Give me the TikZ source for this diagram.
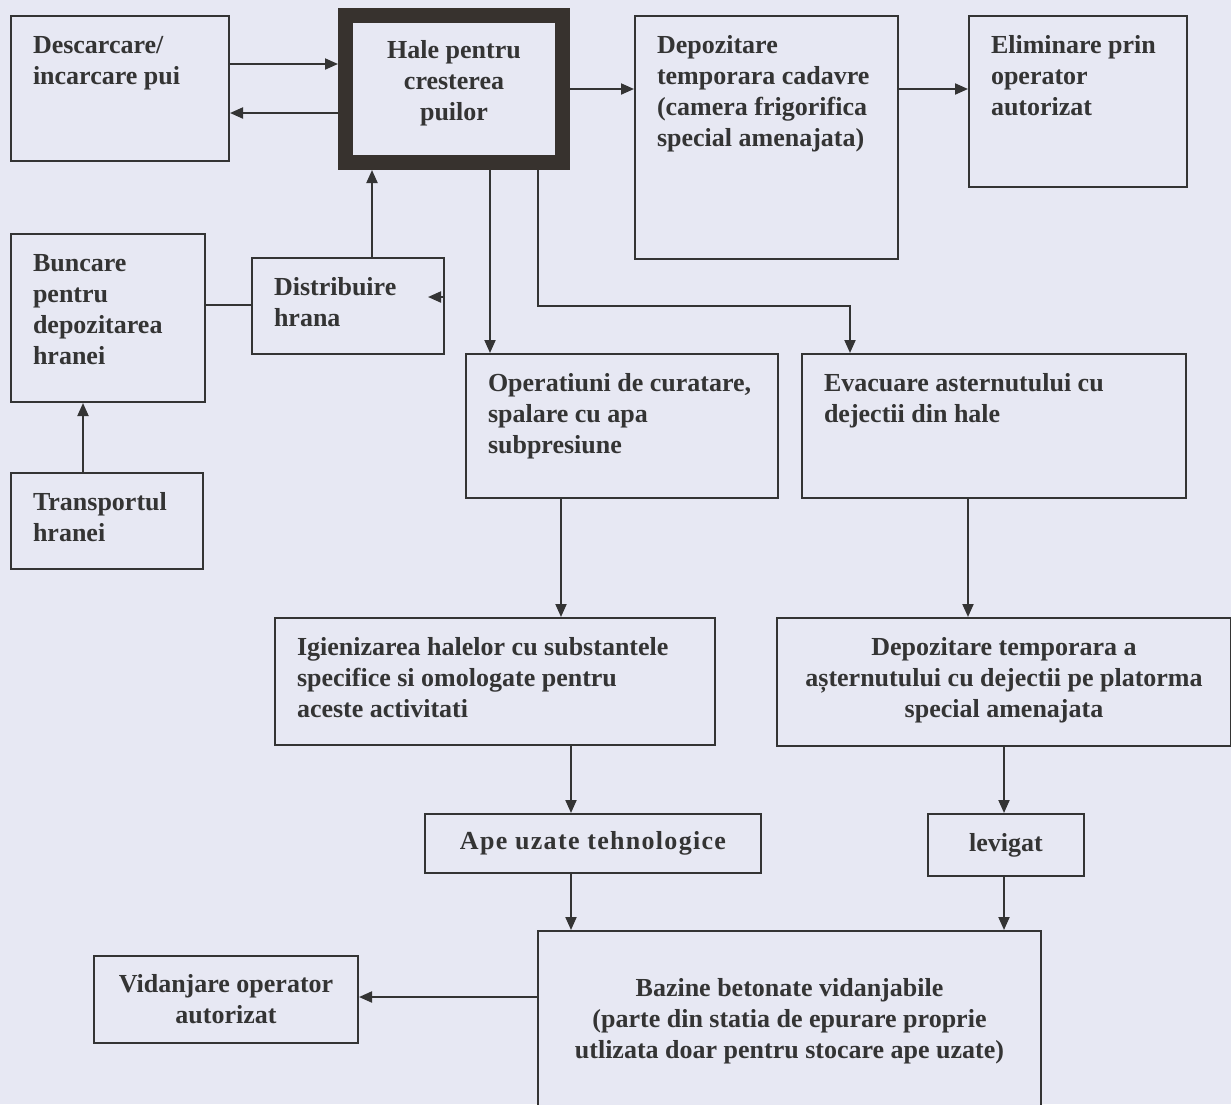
\documentclass[tikz,border=0pt]{standalone}
\usepackage{fontspec}
\setmainfont{Liberation Serif}
\newfontfamily\widefont{Liberation Serif}[LetterSpace=5]
\usetikzlibrary{arrows.meta,positioning}
\definecolor{paper}{RGB}{231,232,243}
\definecolor{ink}{RGB}{52,52,52}
\definecolor{frame}{RGB}{55,50,46}
% text block at the top of a box: width, height, lines
\newcommand{\lefttext}[3]{\parbox[t][#2pt][t]{#1pt}{\begin{tabular}[t]{@{}l@{}}#3\end{tabular}}}
\newcommand{\midtext}[3]{\parbox[t][#2pt][t]{#1pt}{\centering\begin{tabular}[t]{@{}c@{}}#3\end{tabular}}}

\begin{document}
\begin{tikzpicture}[x=1pt,y=-1pt,
    box/.style={draw=ink, line width=2pt, fill=paper, anchor=north west,
      inner xsep=22pt, inner ysep=16pt, text=ink,
      font=\bfseries\fontsize{26}{31}\selectfont},
    midbox/.style={box, inner sep=0pt, align=center},
    arr/.style={draw=ink, line width=2pt, -{Triangle[length=13pt,width=11pt]}},
    link/.style={draw=ink, line width=2pt}]
  \useasboundingbox (0,0) rectangle (1231,1104);
  \fill[paper] (0,0) rectangle (1231,1104);

  % top row
  \node[box] (desc) at (10,15) {\lefttext{174}{113}{Descarcare/\\incarcare pui}};
  \node[box, draw=frame, line width=15pt, inner xsep=10pt, inner ysep=21pt] (hale) at (338,8)
    {\midtext{197}{105}{Hale pentru\\cresterea\\puilor}};
  \node[box] (cad) at (634,15) {\lefttext{219}{211}{Depozitare\\temporara cadavre\\(camera frigorifica\\special amenajata)}};
  \node[box] (elim) at (968,15) {\lefttext{174}{139}{Eliminare prin\\operator\\autorizat}};

  % feed
  \node[box] (bunc) at (10,233) {\lefttext{150}{136}{Buncare\\pentru\\depozitarea\\hranei}};
  \node[box] (distr) at (251,257) {\lefttext{148}{64}{Distribuire\\hrana}};
  \node[box] (transp) at (10,472) {\lefttext{148}{64}{Transportul\\hranei}};

  % cleaning
  \node[box] (oper) at (465,353) {\lefttext{268}{112}{Operatiuni de curatare,\\spalare cu apa\\subpresiune}};
  \node[box] (evac) at (801,353) {\lefttext{340}{112}{Evacuare asternutului cu\\dejectii din hale}};
  \node[box] (igien) at (274,617) {\lefttext{396}{95}{Igienizarea halelor cu substantele\\specifice si omologate pentru\\aceste activitati}};
  \node[box] (depas) at (776,617) {\midtext{410}{96}{Depozitare temporara a\\așternutului cu dejectii pe platorma\\special amenajata}};

  % waste water
  \node[midbox, minimum width=336pt, minimum height=59pt] (ape) at (424,813) {\widefont Ape uzate tehnologice};
  \node[midbox, minimum width=156pt, minimum height=62pt] (lev) at (927,813) {levigat};
  \node[box, inner ysep=44pt] (baz) at (537,930) {\midtext{459}{112}{Bazine betonate vidanjabile\\(parte din statia de epurare proprie\\utlizata doar pentru stocare ape uzate)}};
  \node[midbox, minimum width=264pt, minimum height=87pt] (vid) at (93,955) {Vidanjare operator\\autorizat};

  \coordinate (dtip) at (428,297);
  \coordinate (fork) at (850,306);

  \draw[arr] (desc.east |- 0,64) -- (hale.west |- 0,64);
  \draw[arr] (hale.west |- 0,113) -- (desc.east |- 0,113);
  \draw[arr] (hale.east |- 0,89) -- (cad.west |- 0,89);
  \draw[arr] (cad.east |- 0,89) -- (elim.west |- 0,89);
  \draw[link] (bunc.east |- 0,305) -- (distr.west |- 0,305);
  \draw[arr] (distr.north -| 372,0) -- (hale.south -| 372,0);
  \draw[arr] (distr.east |- dtip) -- (dtip);
  \draw[arr] (transp.north -| 83,0) -- (bunc.south -| 83,0);
  \draw[arr] (hale.south -| 490,0) -- (oper.north -| 490,0);
  \draw[arr] (hale.south -| 538,0) |- (fork) -- (evac.north -| fork);
  \draw[arr] (oper.south -| 561,0) -- (igien.north -| 561,0);
  \draw[arr] (evac.south -| 968,0) -- (depas.north -| 968,0);
  \draw[arr] (igien.south -| 571,0) -- (ape.north -| 571,0);
  \draw[arr] (depas.south -| 1004,0) -- (lev.north -| 1004,0);
  \draw[arr] (ape.south -| 571,0) -- (baz.north -| 571,0);
  \draw[arr] (lev.south -| 1004,0) -- (baz.north -| 1004,0);
  \draw[arr] (baz.west |- 0,997) -- (vid.east |- 0,997);
\end{tikzpicture}
\end{document}
